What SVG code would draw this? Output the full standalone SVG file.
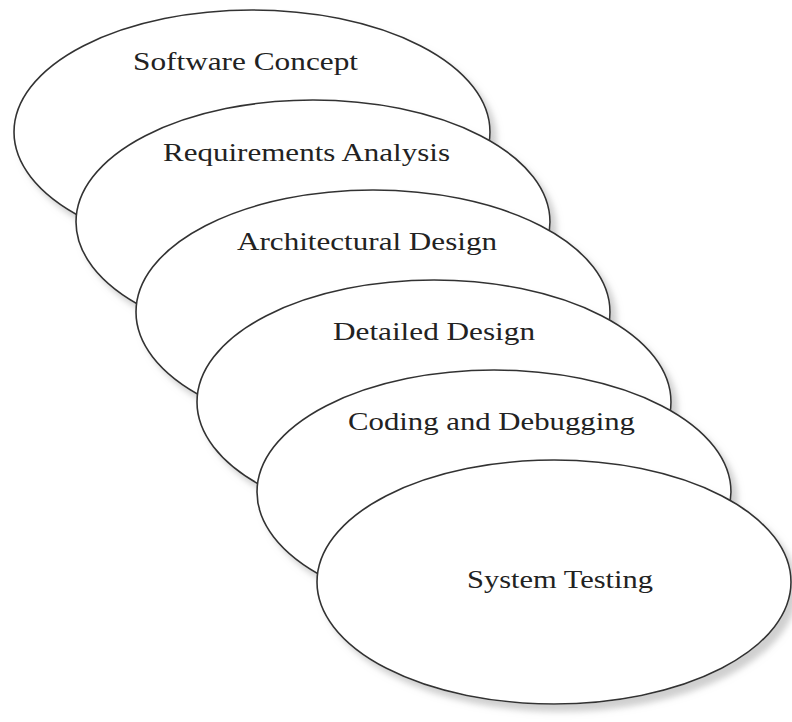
<svg xmlns="http://www.w3.org/2000/svg" width="792" height="722" viewBox="0 0 792 722">
<defs>
<filter id="sh" x="-10%" y="-10%" width="125%" height="130%">
<feDropShadow dx="6" dy="7" stdDeviation="3" flood-color="#a0a0a0" flood-opacity="0.5"/>
</filter>
</defs>
<style>
.e{fill:#fff;stroke:#333;stroke-width:1.6;filter:url(#sh)}
.t{font-family:"Liberation Serif","Times New Roman",serif;font-size:26px;fill:#222;text-anchor:start}
</style>
<rect width="792" height="722" fill="#fff"/>
<g id="connectors"></g>
<g id="n1"><ellipse class="e" cx="252" cy="132" rx="238" ry="122"/><text class="t" x="133" y="70" textLength="225" lengthAdjust="spacingAndGlyphs">Software Concept</text></g>
<g id="n2"><ellipse class="e" cx="313" cy="222" rx="237" ry="122"/><text class="t" x="163" y="161" textLength="287" lengthAdjust="spacingAndGlyphs">Requirements Analysis</text></g>
<g id="n3"><ellipse class="e" cx="373" cy="312" rx="237" ry="122"/><text class="t" x="237" y="250" textLength="260" lengthAdjust="spacingAndGlyphs">Architectural Design</text></g>
<g id="n4"><ellipse class="e" cx="434" cy="402" rx="237" ry="122"/><text class="t" x="333" y="340" textLength="202" lengthAdjust="spacingAndGlyphs">Detailed Design</text></g>
<g id="n5"><ellipse class="e" cx="494" cy="492" rx="237" ry="122"/><text class="t" x="348" y="430" textLength="287" lengthAdjust="spacingAndGlyphs">Coding and Debugging</text></g>
<g id="n6"><ellipse class="e" cx="554" cy="582" rx="237" ry="122"/><text class="t" x="467" y="588" textLength="186" lengthAdjust="spacingAndGlyphs">System Testing</text></g>
</svg>
